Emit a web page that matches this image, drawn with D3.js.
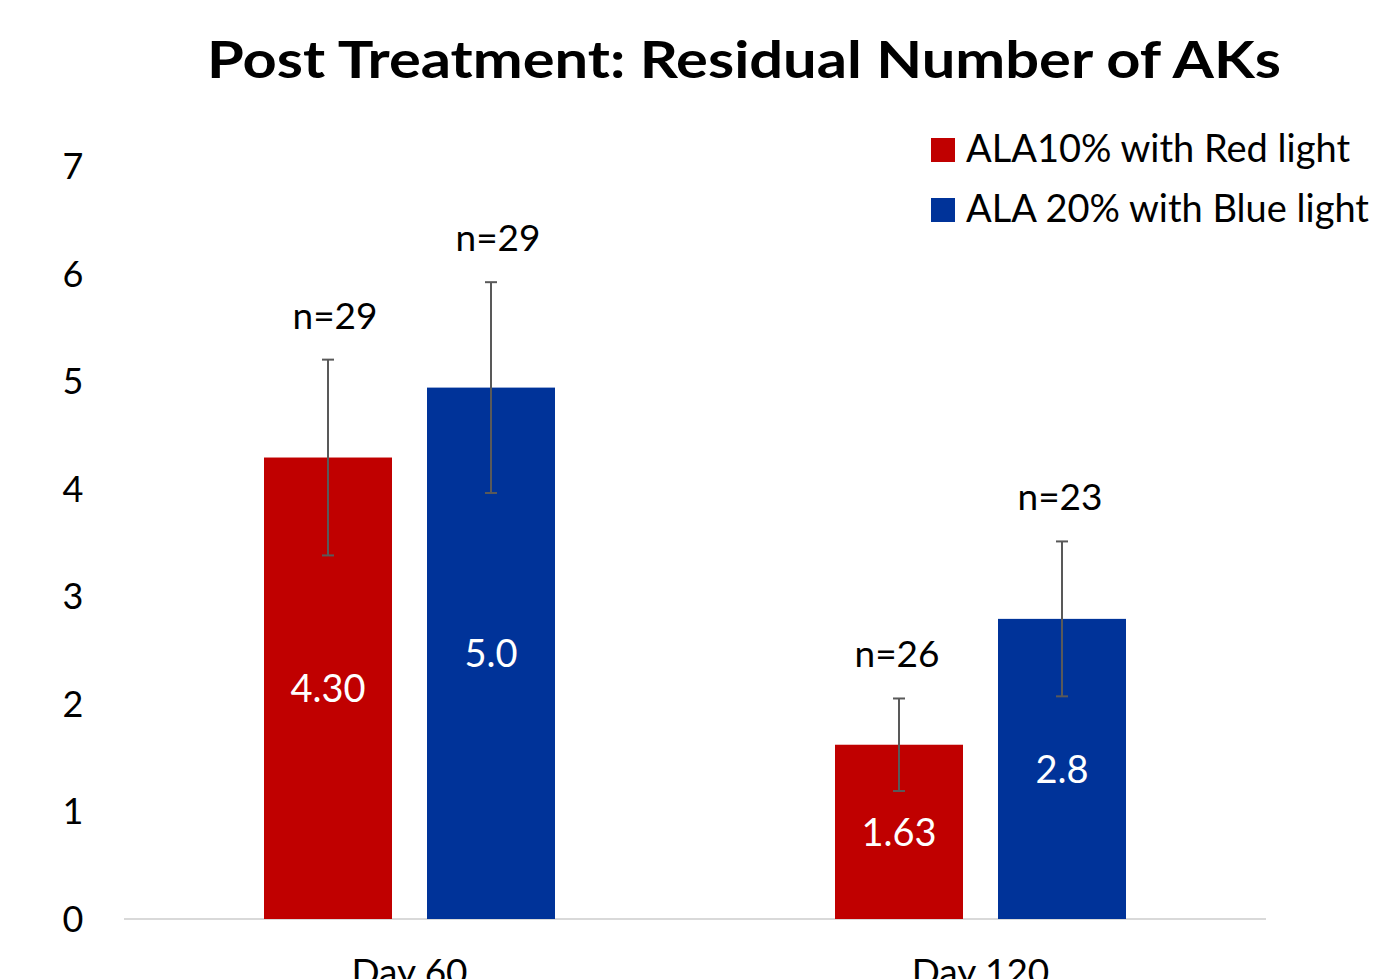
<!DOCTYPE html>
<html><head><meta charset="utf-8">
<script src="https://cdn.jsdelivr.net/npm/d3@7"></script>
<style>body{margin:0;background:#fff;overflow:hidden}svg{display:block}text{font-family:Lato,"Open Sans",sans-serif}</style>
</head><body>
<script>
const categories = ["Day 60", "Day 120"];
const seriesNames = ["ALA10% with Red light", "ALA 20% with Blue light"];
const redValues = [4.29, 1.62];
const blueValues = [4.94, 2.79];
const redLabels = ["4.30", "1.63"];
const blueLabels = ["5.0", "2.8"];
const redErr = [0.91, 0.43];
const blueErr = [0.98, 0.72];
const redN = ["n=29", "n=26"];
const blueN = ["n=29", "n=23"];
const yTicks = [0,1,2,3,4,5,6,7];
const colors = ["#C00000", "#003399"];

const W = 1377, H = 979;
const svg = d3.select("body").append("svg").attr("width", W).attr("height", H);
const x0 = d3.scaleBand().domain(categories).range([124, 1266]);
const x1 = d3.scaleBand().domain(seriesNames).range([0, 291]).paddingInner(35/163).paddingOuter(0);
const y = d3.scaleLinear().domain([0, 7]).range([919, 166]);

svg.append("text").attr("x", 744).attr("y", 78).attr("text-anchor","middle")
  .attr("font-size", 52).attr("font-weight", "bold")
  .attr("textLength", 1074).attr("lengthAdjust", "spacingAndGlyphs")
  .text("Post Treatment: Residual Number of AKs");

// y ticks
svg.append("g").selectAll("text").data(yTicks).join("text")
  .attr("x", 73).attr("y", d => y(d)).attr("dy", "0.36em").attr("text-anchor","middle")
  .attr("font-size", 36).attr("fill","#000").text(d => d);

// axis line
svg.append("line").attr("x1",124).attr("x2",1266).attr("y1",919).attr("y2",919)
  .attr("stroke","#d9d9d9").attr("stroke-width",2);

const rows = [];
categories.forEach((c,i) => {
  rows.push({cat:c, s:seriesNames[0], v:redValues[i], lab:redLabels[i], e:redErr[i], n:redN[i], col:colors[0]});
  rows.push({cat:c, s:seriesNames[1], v:blueValues[i], lab:blueLabels[i], e:blueErr[i], n:blueN[i], col:colors[1]});
});
const groupOffset = (x0.bandwidth() - 291)/2;
const cx = d => x0(d.cat) + groupOffset + x1(d.s) + x1.bandwidth()/2;

svg.append("g").selectAll("rect").data(rows).join("rect")
  .attr("x", d => x0(d.cat) + groupOffset + x1(d.s)).attr("width", x1.bandwidth())
  .attr("y", d => y(d.v)).attr("height", d => y(0) - y(d.v)).attr("fill", d => d.col);

// value labels
svg.append("g").selectAll("text").data(rows).join("text")
  .attr("x", cx).attr("y", d => (y(d.v)+y(0))/2).attr("dy","0.36em").attr("text-anchor","middle")
  .attr("font-size", 38).attr("fill","#fff").text(d => d.lab);

// error bars
const eg = svg.append("g").attr("stroke","#595959").attr("stroke-width",2);
rows.forEach(d => {
  const c = cx(d);
  eg.append("line").attr("x1",c).attr("x2",c).attr("y1",y(d.v+d.e)).attr("y2",y(d.v-d.e));
  eg.append("line").attr("x1",c-6).attr("x2",c+6).attr("y1",y(d.v+d.e)).attr("y2",y(d.v+d.e));
  eg.append("line").attr("x1",c-6).attr("x2",c+6).attr("y1",y(d.v-d.e)).attr("y2",y(d.v-d.e));
});

// n labels
svg.append("g").selectAll("text").data(rows).join("text")
  .attr("x", d => cx(d) + (d.cat==="Day 60" ? 7 : -2)).attr("y", d => y(d.v+d.e) - 31).attr("text-anchor","middle")
  .attr("font-size", 37).attr("fill","#000").text(d => d.n);

// category labels
svg.append("g").selectAll("text").data(categories).join("text")
  .attr("x", d => x0(d) + x0.bandwidth()/2).attr("y", 985).attr("text-anchor","middle")
  .attr("font-size", 37).attr("fill","#000").text(d => d);

// legend
const lg = svg.append("g");
seriesNames.forEach((s,i) => {
  lg.append("rect").attr("x",931).attr("y",138+60*i).attr("width",24).attr("height",24).attr("fill",colors[i]);
  lg.append("text").attr("x",966).attr("y",162+60*i).attr("font-size",38).attr("fill","#000").text(s);
});
</script>
</body></html>
